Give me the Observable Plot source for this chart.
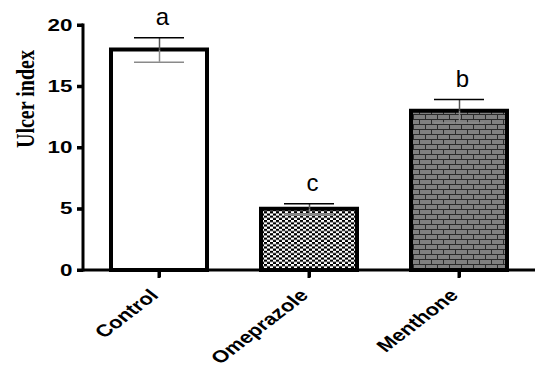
<!DOCTYPE html>
<html><head><meta charset="utf-8">
<script src="https://cdn.jsdelivr.net/npm/d3@7"></script>
<script src="https://cdn.jsdelivr.net/npm/@observablehq/plot@0.6"></script>
<style>body{margin:0;background:#fff}</style>
</head><body><div id="chart"></div>
<script>
const groups = ["Control", "Omeprazole", "Menthone"];
const means = [18, 5, 13];
const sems = [1, 0.45, 0.95];
const letters = ["a", "c", "b"];
const yTicks = [0, 5, 10, 15, 20];
const yLabel = "Ulcer index";

const data = groups.map((g, i) => ({group: g, mean: means[i], sem: sems[i], letter: letters[i]}));
const fillFor = {Control: "white", Omeprazole: "url(#checker)", Menthone: "url(#brick)"};

const NS = "http://www.w3.org/2000/svg";
function line(g, x1, y1, x2, y2) {
  const l = document.createElementNS(NS, "line");
  l.setAttribute("x1", x1); l.setAttribute("y1", y1);
  l.setAttribute("x2", x2); l.setAttribute("y2", y2);
  l.setAttribute("stroke", "black");
  l.setAttribute("stroke-width", 3);
  g.appendChild(l);
}
// axis lines and tick marks, positioned from the library's scales
function axesMark(index, scales, values, dims) {
  const g = document.createElementNS(NS, "g");
  g.setAttribute("aria-label", "axis lines");
  const {x, y} = scales;
  const left = dims.marginLeft;
  const y0 = y(yTicks[0]);
  line(g, left, y0 + 1.5, left, y(yTicks[yTicks.length - 1]) - 1.5);
  for (const t of yTicks) line(g, left - 6, y(t), left, y(t));
  line(g, left, y0, dims.width - dims.marginRight, y0);
  for (const c of groups) {
    const cx = x(c) + x.bandwidth() / 2;
    line(g, cx, y0, cx, y0 + 8);
  }
  return g;
}

const svg = Plot.plot({
  width: 556, height: 372,
  marginLeft: 83, marginRight: 21, marginTop: 25, marginBottom: 102,
  style: {fontFamily: "Liberation Sans, Arial, sans-serif", fontSize: "16px", fontWeight: "bold", color: "black", background: "white"},
  x: {domain: groups, padding: 0, axis: null},
  y: {domain: [0, 20], axis: null},
  color: {type: "identity"},
  marks: [
    Plot.barY(data, {x: "group", y: "mean", fill: d => fillFor[d.group], stroke: "black", strokeWidth: 4, insetLeft: 27, insetRight: 27}),
    Plot.ruleX(data, {x: "group", y1: d => d.mean - d.sem, y2: "mean", stroke: "#8a8a8a", strokeWidth: 1.5}),
    Plot.tickY(data, {x: "group", y: d => d.mean - d.sem, stroke: "#8a8a8a", strokeWidth: 1.5, insetLeft: 50, insetRight: 50}),
    Plot.ruleX(data, {x: "group", y1: "mean", y2: d => d.mean + d.sem, stroke: "#555", strokeWidth: 1.5}),
    Plot.tickY(data, {x: "group", y: d => d.mean + d.sem, stroke: "black", strokeWidth: 1.5, insetLeft: 50, insetRight: 50}),
    Plot.text(data, {x: "group", y: d => d.mean + d.sem, text: "letter", lineAnchor: "bottom", dy: -13, dx: 3, fontSize: 24, fontWeight: "normal", fill: "black"}),
    axesMark,
    Plot.axisY({ticks: yTicks, tickSize: 6, tickPadding: 5, strokeWidth: 3, stroke: "black", label: null, fontSize: 16, fontWeight: "bold"}),
    Plot.axisX({tickRotate: -45, tickSize: 7, tickPadding: 15, strokeWidth: 3, stroke: "black", label: null, fontSize: 17, fontWeight: "bold"}),
    Plot.text([yLabel], {frameAnchor: "left", rotate: -90, dx: -58, fontSize: 20, fontWeight: "bold", fontFamily: "Liberation Serif, Times New Roman, serif", fill: "black"})
  ]
});

d3.select(svg).insert("defs", ":first-child").html(`
  <pattern id="checker" width="6" height="4.4" patternUnits="userSpaceOnUse">
    <rect width="6" height="4.4" fill="white"/>
    <rect width="3" height="2.2" fill="black"/>
    <rect x="3" y="2.2" width="3" height="2.2" fill="black"/>
  </pattern>
  <pattern id="brick" width="12" height="10" patternUnits="userSpaceOnUse">
    <rect width="12" height="10" fill="#2a2a2a"/>
    <rect x="0" y="0" width="11" height="4" fill="#808080"/>
    <rect x="-6" y="5" width="11" height="4" fill="#808080"/>
    <rect x="6" y="5" width="11" height="4" fill="#808080"/>
  </pattern>`);

function stretch(sel, s, shift = 0) {
  sel.each(function() {
    const t = this.getAttribute("transform");
    const pre = shift ? `translate(${shift},0) ` : "";
    if (t && /^translate\([^)]*\)/.test(t)) {
      this.setAttribute("transform", pre + t.replace(/^(translate\([^)]*\))/, `$1 scale(${s},1)`));
    } else {
      const x = +this.getAttribute("x") || 0, y = +this.getAttribute("y") || 0;
      this.setAttribute("transform", `${pre}translate(${x},${y}) scale(${s},1) translate(${-x},${-y})`);
    }
  });
}
const root = d3.select(svg);
stretch(root.selectAll('g[aria-label="y-axis tick label"] text'), 1.4);
stretch(root.selectAll('g[aria-label="x-axis tick label"] text'), 1.3, -5);
stretch(root.selectAll("text").filter(function() { return this.textContent === yLabel; }), 1.3);

document.getElementById("chart").appendChild(svg);
</script>
</body></html>
